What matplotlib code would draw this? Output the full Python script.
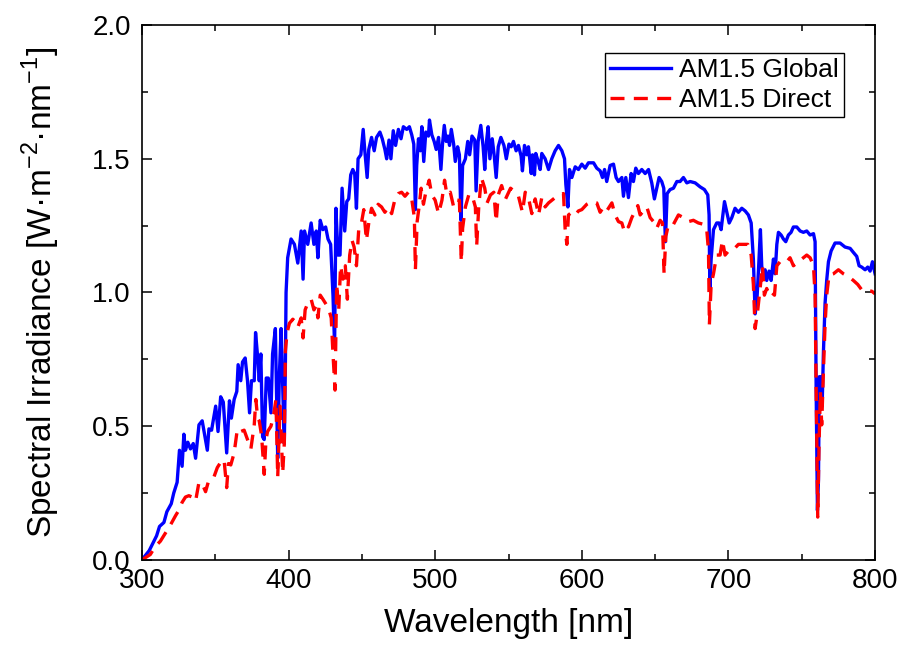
import numpy as np
import matplotlib.pyplot as plt
from matplotlib.ticker import MultipleLocator

# AM1.5 Global (nm, W m^-2 nm^-1)
glob_wl = [300, 305, 310, 312, 315, 317, 320, 321.7, 324, 325.6, 327.4, 328.6, 329.7,
           331.3, 333.1, 335, 336.6, 338.9, 341.1, 343, 344.6, 345.7, 347.5, 350.3,
           351.9, 353.7, 355.5, 357.8, 359.7, 361, 362.9, 364.7, 365.6, 367.4, 368.6,
           370.4, 372, 373.4, 374.7, 376.6, 377.5, 378.9, 380, 381.1, 382.3, 383.4,
           384.8, 386.2, 388, 389.1, 391, 392.6, 393.7, 394.9, 396, 397.1, 397.8,
           398.3, 399.4, 401.7, 404, 406.3, 408.6, 409.9, 410.9, 413.1, 415.4, 417.3,
           418.9, 420, 421.6, 423.4, 425.3, 426.9, 428.7, 430.3, 431.4, 432.3, 433.7,
           435.1, 436.5, 438.3, 439.7, 441, 442.4, 443.8, 445.1, 446.3, 447.4, 449.3,
           450.9, 452, 453.6, 454.7, 456.6, 458.4, 460, 462.3, 463.9, 465.7, 466.9,
           468.5, 469.8, 471.4, 473, 474.9, 476.7, 478.3, 480.6, 482.4, 484, 485.4,
           486.5, 487.4, 488.6, 489.9, 490.9, 492.2, 493.6, 495.4, 496.1, 497.7,
           499.3, 500.7, 502.3, 503.9, 505, 506.2, 507.5, 508.7, 509.8, 511, 512.6,
           513.7, 515.3, 516.5, 517.6, 518.7, 520.6, 522.2, 523.5, 525.1, 527, 527.9,
           529.3, 531.1, 532.7, 533.8, 535, 536.1, 537.3, 538.9, 540.2, 541.6, 543,
           544.8, 546.9, 548.5, 550.3, 551.8, 553.4, 555.2, 556.8, 558.6, 559.5,
           560.9, 562.5, 563.6, 565.5, 566.4, 567.7, 568.6, 570, 571.6, 572.7, 575,
           577.3, 579.5, 581.8, 584.1, 586.4, 588.2, 589.1, 590.5, 591.6, 593.2,
           595.5, 597.7, 600, 602.3, 604.5, 608, 610.2, 612.5, 614.1, 615.5, 617,
           619.3, 621.6, 623.4, 625, 627.3, 628.4, 630, 631.8, 633.6, 635.2, 636.8,
           638.6, 640.9, 643.2, 645.5, 647.7, 649.5, 651.1, 652.7, 654.5, 655.9, 657,
           658.2, 660.2, 662.5, 664.8, 667, 669.3, 671.6, 673.9, 677.3, 680.7, 683.6,
           685.9, 686.8, 687.3, 688.2, 689.8, 692, 693.6, 695, 695.9, 697.3, 698.9,
           700.5, 702.3, 704.5, 706.8, 709.1, 711.4, 713.6, 715.5, 717, 718.2, 719.3,
           720.5, 721.8, 722.7, 723.9, 725, 726.1, 727.7, 729.1, 730.7, 731.8, 733,
           734.1, 735.9, 737.5, 739.1, 740.9, 742.7, 744.3, 746.6, 748.9, 751.1,
           753.4, 755.7, 758, 759.1, 759.8, 760.7, 761.4, 762, 763, 763.9, 764.8,
           765.9, 767, 768.2, 770, 772.7, 776.1, 779.5, 783, 785.2, 787.5, 789.1,
           790.9, 793.2, 795, 796.6, 798.2, 800]
glob_irr = [0, 0.035, 0.09, 0.125, 0.14, 0.18, 0.21, 0.25, 0.29, 0.41, 0.35, 0.47, 0.41,
            0.44, 0.415, 0.435, 0.38, 0.505, 0.52, 0.46, 0.41, 0.49, 0.485, 0.575,
            0.48, 0.61, 0.59, 0.40, 0.595, 0.53, 0.60, 0.63, 0.73, 0.67, 0.74,
            0.755, 0.67, 0.55, 0.67, 0.67, 0.85, 0.76, 0.67, 0.77, 0.46, 0.45,
            0.68, 0.68, 0.55, 0.77, 0.865, 0.38, 0.685, 0.865, 0.645, 0.435, 0.71,
            1.0, 1.13, 1.20, 1.18, 1.11, 1.23, 1.05, 1.23, 1.18, 1.26, 1.18,
            1.23, 1.13, 1.27, 1.235, 1.245, 1.20, 1.18, 0.99, 0.80, 1.315, 1.14,
            1.14, 1.39, 1.23, 1.34, 1.35, 1.44, 1.46, 1.445, 1.315, 1.50, 1.515,
            1.61, 1.53, 1.43, 1.535, 1.58, 1.53, 1.58, 1.60, 1.575, 1.535, 1.50,
            1.57, 1.50, 1.605, 1.55, 1.61, 1.575, 1.62, 1.61, 1.62, 1.59, 1.555,
            1.31, 1.475, 1.575, 1.53, 1.62, 1.49, 1.60, 1.585, 1.645, 1.59,
            1.565, 1.535, 1.58, 1.46, 1.555, 1.625, 1.565, 1.585, 1.55, 1.61, 1.555,
            1.49, 1.545, 1.515, 1.27, 1.475, 1.50, 1.565, 1.515, 1.585, 1.57, 1.38,
            1.565, 1.625, 1.545, 1.46, 1.565, 1.62, 1.50, 1.575, 1.515, 1.43, 1.545,
            1.58, 1.55, 1.50, 1.555, 1.545, 1.565, 1.53, 1.55, 1.51, 1.455,
            1.55, 1.515, 1.545, 1.445, 1.515, 1.44, 1.52, 1.495, 1.46, 1.52, 1.50,
            1.46, 1.50, 1.53, 1.55, 1.53, 1.50, 1.405, 1.32, 1.46, 1.43,
            1.47, 1.46, 1.48, 1.465, 1.485, 1.485, 1.465, 1.455, 1.43, 1.46, 1.415,
            1.475, 1.48, 1.43, 1.415, 1.43, 1.36, 1.43, 1.355, 1.445, 1.415, 1.465,
            1.445, 1.46, 1.445, 1.46, 1.41, 1.35, 1.39, 1.43, 1.415, 1.39, 1.19,
            1.37, 1.385, 1.39, 1.415, 1.415, 1.43, 1.41, 1.415, 1.41, 1.395, 1.385,
            1.365, 1.29, 1.015, 1.125, 1.235, 1.26, 1.26, 1.235, 1.275, 1.34, 1.30,
            1.26, 1.28, 1.315, 1.30, 1.315, 1.305, 1.29, 1.26, 1.125, 0.92, 0.96,
            1.085, 1.235, 1.10, 1.05, 1.085, 1.045, 1.08, 1.045, 1.125, 1.07, 1.18,
            1.225, 1.215, 1.20, 1.19, 1.215, 1.225, 1.245, 1.245, 1.23, 1.225,
            1.23, 1.215, 1.22, 1.19, 0.645, 0.185, 0.30, 0.685, 0.685, 0.575, 0.78,
            0.96, 1.045, 1.115, 1.155, 1.185, 1.185, 1.17, 1.165, 1.15, 1.135, 1.10,
            1.095, 1.085, 1.095, 1.08, 1.115, 1.07]

# AM1.5 Direct
direct_wl = [300, 305.7, 309.1, 312.6, 316, 319.4, 322.9, 325.1, 327.4, 329.7, 332,
             334.3, 336.6, 338.9, 341.1, 343.4, 345.7, 349.1, 351.4, 353.7, 356,
             357.8, 359, 360.6, 362.9, 365.1, 367.4, 369.7, 372, 374.3, 376.6, 377.7,
             378.9, 380, 381.6, 383.4, 384.6, 385.7, 388, 389.8, 391.4, 392.6, 394.2,
             396, 397.1, 397.8, 399, 400.6, 402.9, 404.7, 406.3, 408.6, 409.9, 411.3,
             413.1, 415.4, 417.3, 418.9, 420, 421.6, 423.4, 425.7, 427.3, 429.1,
             430.3, 431.7, 432.8, 434.2, 435.5, 437.1, 438.7, 440.1, 441.7, 443.3,
             444.7, 446.3, 447.9, 449.7, 451.3, 453.1, 454.7, 456.6, 458.9, 461.1,
             463.4, 465.7, 468, 470.3, 472.6, 474.9, 477.1, 479.4, 481.7, 484, 485.8,
             486.5, 487.7, 489, 490.4, 492, 493.6, 495.9, 497.7, 500, 502.3, 504.6,
             506.4, 508, 510.3, 512.6, 514.9, 516.5, 517.8, 518.7, 520.6, 522.9,
             525.1, 527.4, 528.3, 529.7, 531.5, 533.8, 535.4, 537.7, 540, 541.6, 543,
             545.3, 548, 551.4, 554.5, 556.8, 559.5, 561.4, 563.6, 565.9, 568.2,
             570.5, 572.7, 575, 577.3, 580.7, 584.1, 587.5, 588.6, 589.8, 590.9,
             593.2, 595.5, 597.7, 600, 603.4, 606.8, 610.2, 612.5, 614.8, 617, 620.5,
             622.7, 625, 627.3, 628.4, 630, 631.8, 634.1, 635.9, 638.2, 639.8, 642,
             644.3, 646.6, 648.9, 651.1, 653.4, 655, 656.1, 657.3, 659.1, 662.5,
             665.9, 669.3, 672.7, 676.1, 679.5, 683, 685.2, 686.4, 687, 688.2, 689.8,
             692, 694.3, 695.9, 697.7, 700, 703.4, 706.8, 710.2, 713.2, 715.5, 717,
             718.2, 720, 721.6, 723.2, 724.5, 726.1, 727.7, 729.5, 731.4, 733, 735.2,
             737.5, 739.8, 742, 744.3, 747.7, 751.1, 753.4, 755.7, 758, 759.1, 759.8,
             760.9, 761.8, 762.7, 763.6, 764.8, 765.9, 767, 768.6, 771.6, 775, 778.4,
             781.8, 785.2, 788.2, 790.9, 794.3, 797.7, 800]
direct_irr = [0, 0.02, 0.05, 0.07, 0.10, 0.13, 0.165, 0.185, 0.215, 0.235, 0.24,
              0.235, 0.22, 0.29, 0.285, 0.255, 0.30, 0.31, 0.345, 0.365, 0.375,
              0.27, 0.36, 0.355, 0.40, 0.49, 0.48, 0.485, 0.45, 0.415, 0.505, 0.60,
              0.53, 0.52, 0.465, 0.32, 0.45, 0.48, 0.50, 0.54, 0.60, 0.31, 0.575,
              0.325, 0.435, 0.78, 0.85, 0.885, 0.90, 0.89, 0.87, 0.905, 0.83, 0.935,
              0.96, 0.975, 0.935, 0.95, 0.905, 0.99, 0.975, 0.955, 0.94, 0.905,
              0.77, 0.635, 1.03, 0.935, 1.10, 1.05, 1.10, 0.975, 1.14, 1.195,
              1.17, 1.10, 1.24, 1.26, 1.31, 1.195, 1.26, 1.315, 1.29, 1.33,
              1.32, 1.30, 1.32, 1.295, 1.35, 1.37, 1.375, 1.36, 1.375, 1.35, 1.28,
              1.085, 1.265, 1.32, 1.39, 1.33, 1.375, 1.42, 1.365, 1.345, 1.295, 1.345,
              1.42, 1.365, 1.375, 1.32, 1.345, 1.345, 1.115, 1.24, 1.32, 1.365,
              1.365, 1.32, 1.175, 1.32, 1.43, 1.39, 1.335, 1.365, 1.375, 1.265, 1.365,
              1.40, 1.35, 1.39, 1.375, 1.36, 1.30, 1.375, 1.355, 1.295, 1.35,
              1.29, 1.355, 1.32, 1.335, 1.35, 1.365, 1.37, 1.24, 1.18, 1.29,
              1.30, 1.29, 1.305, 1.31, 1.33, 1.34, 1.335, 1.30, 1.32, 1.305, 1.335,
              1.29, 1.265, 1.26, 1.24, 1.26, 1.245, 1.28, 1.30, 1.325, 1.29, 1.305,
              1.32, 1.28, 1.265, 1.24, 1.27, 1.26, 1.07, 1.21, 1.255, 1.255,
              1.29, 1.28, 1.265, 1.27, 1.26, 1.255, 1.235, 1.155, 0.88, 1.03, 1.07,
              1.14, 1.14, 1.195, 1.14, 1.155, 1.16, 1.18, 1.18, 1.18, 1.14, 1.03,
              0.865, 0.935, 1.015, 1.10, 0.99, 1.015, 0.99, 1.00, 0.99, 1.10, 1.115,
              1.11, 1.115, 1.13, 1.10, 1.115, 1.13, 1.14, 1.13, 1.10, 0.99, 0.645,
              0.16, 0.435, 0.63, 0.505, 0.71, 0.88, 0.99, 1.065, 1.07, 1.085, 1.07,
              1.06, 1.045, 1.03, 1.01, 1.005, 1.005, 0.995]


def plotSpectra():
    plt.rcParams['font.family'] = ['Liberation Sans', 'DejaVu Sans']
    plt.rcParams['mathtext.fontset'] = 'custom'
    plt.rcParams['mathtext.rm'] = 'Liberation Sans'

    fig = plt.figure(figsize=(9.04, 6.61), dpi=100)
    ax = fig.add_axes([0.157, 0.153, 0.811, 0.809])

    ax.plot(glob_wl, glob_irr, color="#0000ff", lw=2.4, label="AM1.5 Global")
    ax.plot(direct_wl, direct_irr, color="#ff0000", lw=2.4, ls=(0, (4.2, 2.8)),
            label="AM1.5 Direct")

    ax.set_xlim(300, 800)
    ax.set_ylim(0, 2.0)
    ax.xaxis.set_major_locator(MultipleLocator(100))
    ax.xaxis.set_minor_locator(MultipleLocator(50))
    ax.yaxis.set_major_locator(MultipleLocator(0.5))
    ax.yaxis.set_minor_locator(MultipleLocator(0.25))
    ax.yaxis.set_major_formatter(plt.FormatStrFormatter("%.1f"))

    ax.tick_params(which="both", direction="in", top=True, right=True, width=1.1)
    ax.tick_params(which="major", length=7, labelsize=20)
    ax.tick_params(which="minor", length=4.5)
    ax.tick_params(axis="x", pad=6)
    ax.tick_params(axis="y", pad=8)
    for s in ax.spines.values():
        s.set_linewidth(1.2)

    # etiquetas
    ax.set_xlabel("Wavelength [nm]", fontsize=24, labelpad=10)
    ax.set_ylabel("Spectral Irradiance [W\u00b7m$^{\\mathregular{-2}}$\u00b7nm$^{\\mathregular{-1}}$]",
                  fontsize=24, labelpad=22)

    leg = ax.legend(loc="upper right", bbox_to_anchor=(0.957, 0.948),
                    borderaxespad=0, fontsize=19, frameon=True, fancybox=False,
                    edgecolor="black", framealpha=1, handlelength=2.3,
                    borderpad=0.2, labelspacing=0.22, handletextpad=0.3)
    leg.get_frame().set_linewidth(1.0)

    fig.savefig("out.png", dpi=100)


def main():
    plotSpectra()


if __name__ == "__main__":
    main()
